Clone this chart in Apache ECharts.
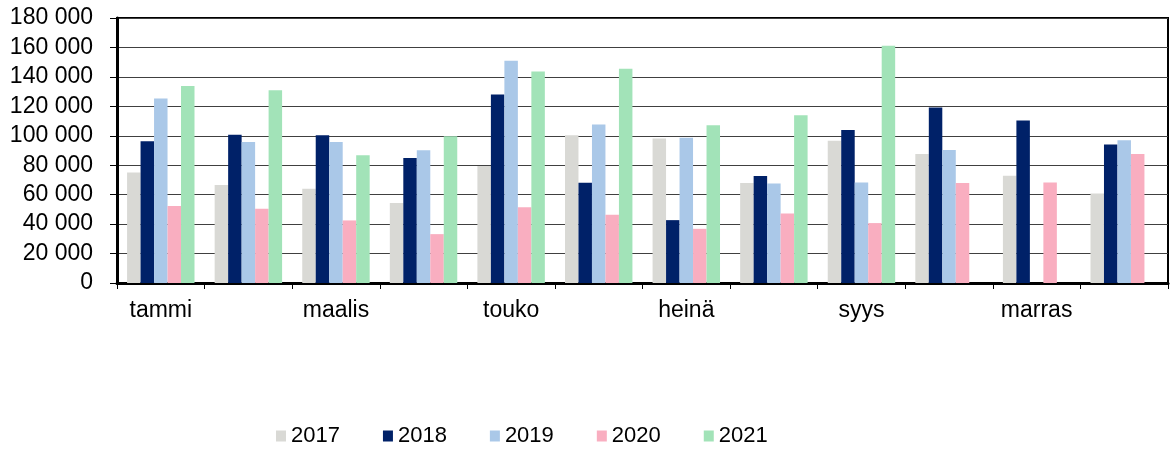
<!DOCTYPE html>
<html>
<head>
<meta charset="utf-8">
<script src="https://cdn.jsdelivr.net/npm/echarts@6/dist/echarts.min.js"></script>
<style>
  html, body { margin: 0; padding: 0; background: #fff; }
  #chart { width: 1174px; height: 449px; }
</style>
</head>
<body>
<div id="chart"></div>
<script>
// Kuukaudet (vain joka toinen nimi näytetään akselilla)
const months = ['tammi', 'helmi', 'maalis', 'huhti', 'touko', 'kesä',
                'heinä', 'elo', 'syys', 'loka', 'marras', 'joulu'];

const years = ['2017', '2018', '2019', '2020', '2021'];

const v2017 = [75000, 66600, 64000, 54300, 79500, 100300, 98100, 67900, 96700, 87600, 72900, 60800];
const v2018 = [96200, 100700, 100400, 84900, 128000, 68100, 42700, 72700, 104000, 119200, 110300, 94000];
const v2019 = [125400, 95800, 95800, 90200, 151000, 107600, 98700, 67600, 68300, 90300, 0, 96900];
const v2020 = [52300, 50500, 42500, 33200, 51500, 46300, 36800, 47200, 40700, 67900, 68300, 87600];
const v2021 = [133800, 130900, 86700, 99700, 143700, 145500, 107100, 114000, 161200, 0, 0, 0];

const yTicks = { min: 0, max: 180000, interval: 20000 };

const colors = ['#d9d9d5', '#002168', '#aac8e8', '#f9aec0', '#a2e3b8'];
const seriesValues = [v2017, v2018, v2019, v2020, v2021];

const fmt = v => String(v).replace(/\B(?=(\d{3})+(?!\d))/g, ' ');

const chart = echarts.init(document.getElementById('chart'), null, { renderer: 'canvas' });

chart.setOption({
  animation: false,
  textStyle: { fontFamily: '"Liberation Sans", Arial, sans-serif' },
  legend: {
    data: years,
    left: 271,
    top: 420,
    itemWidth: 10,
    itemHeight: 11,
    itemGap: 43,
    icon: 'rect',
    textStyle: { fontSize: 22, color: '#000' }
  },
  grid: {
    left: 117, right: 6, top: 18, bottom: 166,
    show: true, borderColor: '#000', borderWidth: 2, backgroundColor: 'transparent'
  },
  xAxis: {
    type: 'category',
    data: months,
    boundaryGap: true,
    axisLine: { show: true, lineStyle: { color: '#000', width: 3 } },
    axisTick: { show: true, interval: 0, length: 6, lineStyle: { color: '#000', width: 1 } },
    axisLabel: { interval: 1, color: '#000', fontSize: 23, margin: 16 },
    splitLine: { show: false }
  },
  yAxis: {
    type: 'value',
    min: yTicks.min, max: yTicks.max, interval: yTicks.interval,
    axisLine: { show: true, lineStyle: { color: '#000', width: 3 } },
    axisTick: { show: true, length: 7, lineStyle: { color: '#000', width: 1 } },
    axisLabel: { color: '#000', fontSize: 23, margin: 24, formatter: fmt },
    splitLine: { show: true, lineStyle: { color: '#404040', width: 1.2 } }
  },
  series: years.map((y, i) => ({
    name: y,
    type: 'bar',
    data: seriesValues[i],
    barGap: '0%',
    barCategoryGap: '23%',
    itemStyle: { color: colors[i] },
    z: 3
  }))
});
</script>
</body>
</html>
